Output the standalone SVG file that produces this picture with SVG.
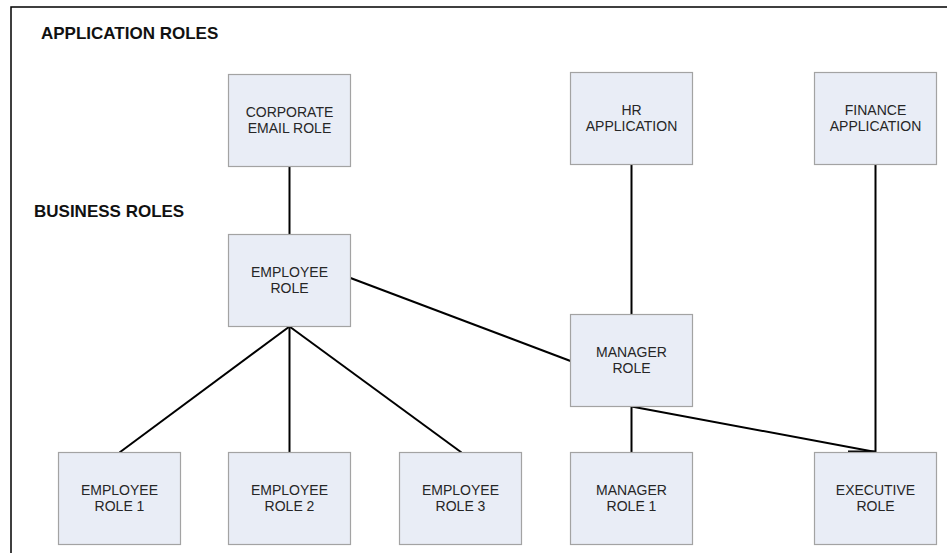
<svg xmlns="http://www.w3.org/2000/svg" width="947" height="553" viewBox="0 0 947 553">
  <style>
    .frame { fill: none; stroke: #000; stroke-width: 1.5; }
    .box { fill: #e9edf6; stroke: #a3a3a3; stroke-width: 1.2; }
    .lbl { font-family: "Liberation Sans", Arial, sans-serif; font-size: 14px; fill: #262626; text-anchor: middle; }
    .hdr { font-family: "Liberation Sans", Arial, sans-serif; font-size: 17px; font-weight: bold; fill: #111; }
    .link { fill: none; stroke: #000; stroke-width: 2; }
  </style>
  <rect width="947" height="553" fill="#fff"/>
  <!-- page frame: only the top and left edges fall inside the view -->
  <path class="frame" d="M11,560 V7 H960"/>

  <text class="hdr" x="41" y="39">APPLICATION ROLES</text>
  <text class="hdr" x="34" y="217">BUSINESS ROLES</text>

  <g id="connectors">
    <line class="link" x1="289.5" y1="166.5" x2="289.5" y2="234.5"/>
    <line class="link" x1="350.5" y1="278" x2="570.5" y2="361"/>
    <line class="link" x1="289.5" y1="326.5" x2="119.5" y2="452.5"/>
    <line class="link" x1="289.5" y1="326.5" x2="289.5" y2="452.5"/>
    <line class="link" x1="289.5" y1="326.5" x2="461.5" y2="452.5"/>
    <line class="link" x1="631.5" y1="164.5" x2="631.5" y2="314.5"/>
    <line class="link" x1="875.5" y1="164.5" x2="875.5" y2="452.5"/>
    <line class="link" x1="631.5" y1="406.5" x2="631.5" y2="452.5"/>
    <line class="link" x1="631.5" y1="406.5" x2="875.5" y2="452"/>
    <line class="link" x1="848" y1="452" x2="876" y2="452" style="stroke-width:3"/>
  </g>

  <g id="corporate-email-role">
    <rect class="box" x="228.5" y="74.5" width="122" height="92"/>
    <text class="lbl" x="289.5" y="117">CORPORATE</text>
    <text class="lbl" x="289.5" y="132.5">EMAIL ROLE</text>
  </g>
  <g id="hr-application">
    <rect class="box" x="570.5" y="72.5" width="122" height="92"/>
    <text class="lbl" x="631.5" y="115">HR</text>
    <text class="lbl" x="631.5" y="130.5">APPLICATION</text>
  </g>
  <g id="finance-application">
    <rect class="box" x="814.5" y="72.5" width="122" height="92"/>
    <text class="lbl" x="875.5" y="115">FINANCE</text>
    <text class="lbl" x="875.5" y="130.5">APPLICATION</text>
  </g>
  <g id="employee-role">
    <rect class="box" x="228.5" y="234.5" width="122" height="92"/>
    <text class="lbl" x="289.5" y="277">EMPLOYEE</text>
    <text class="lbl" x="289.5" y="292.5">ROLE</text>
  </g>
  <g id="manager-role">
    <rect class="box" x="570.5" y="314.5" width="122" height="92"/>
    <text class="lbl" x="631.5" y="357">MANAGER</text>
    <text class="lbl" x="631.5" y="372.5">ROLE</text>
  </g>
  <g id="employee-role-1">
    <rect class="box" x="58.5" y="452.5" width="122" height="92"/>
    <text class="lbl" x="119.5" y="495">EMPLOYEE</text>
    <text class="lbl" x="119.5" y="510.5">ROLE 1</text>
  </g>
  <g id="employee-role-2">
    <rect class="box" x="228.5" y="452.5" width="122" height="92"/>
    <text class="lbl" x="289.5" y="495">EMPLOYEE</text>
    <text class="lbl" x="289.5" y="510.5">ROLE 2</text>
  </g>
  <g id="employee-role-3">
    <rect class="box" x="399.5" y="452.5" width="122" height="92"/>
    <text class="lbl" x="460.5" y="495">EMPLOYEE</text>
    <text class="lbl" x="460.5" y="510.5">ROLE 3</text>
  </g>
  <g id="manager-role-1">
    <rect class="box" x="570.5" y="452.5" width="122" height="92"/>
    <text class="lbl" x="631.5" y="495">MANAGER</text>
    <text class="lbl" x="631.5" y="510.5">ROLE 1</text>
  </g>
  <g id="executive-role">
    <rect class="box" x="814.5" y="452.5" width="122" height="92"/>
    <text class="lbl" x="875.5" y="495">EXECUTIVE</text>
    <text class="lbl" x="875.5" y="510.5">ROLE</text>
  </g>
</svg>
